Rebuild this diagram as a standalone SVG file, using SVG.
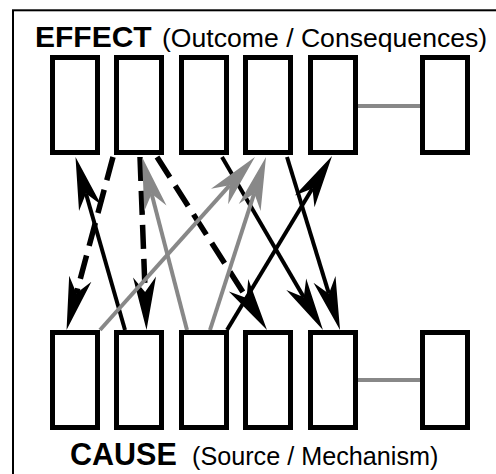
<svg xmlns="http://www.w3.org/2000/svg" width="496" height="474" viewBox="0 0 496 474">
<style>
.frame{fill:none;stroke:#000;stroke-width:2}
.box{fill:#fff;stroke:#000;stroke-width:5}
.link{stroke:#888;stroke-width:4;fill:none}
.blk{stroke:#000;stroke-width:4;fill:none}
.dsh{stroke:#000;stroke-width:5.5;fill:none;stroke-dasharray:24 10}
.gry{stroke:#888;stroke-width:4;fill:none}
.title{font-family:"Liberation Sans",Arial,sans-serif;fill:#000}
.bold{font-weight:bold}
</style>
<defs>
<marker id="hb" markerUnits="userSpaceOnUse" orient="auto" refX="0" refY="0" markerWidth="60" markerHeight="30" overflow="visible">
<path d="M38,0 L-15,-11.5 L0,0 L-15,11.5 Z" fill="#000"/>
</marker>
<marker id="hg" markerUnits="userSpaceOnUse" orient="auto" refX="0" refY="0" markerWidth="60" markerHeight="30" overflow="visible">
<path d="M38,0 L-15,-11.5 L0,0 L-15,11.5 Z" fill="#888"/>
</marker>
</defs>
<rect class="frame" x="13" y="10.3" width="520" height="520"/>
<text class="title bold" x="35" y="47" font-size="30">EFFECT</text>
<text class="title" x="162" y="47" font-size="26.6">(Outcome / Consequences)</text>
<text class="title bold" x="70" y="465" font-size="30.5">CAUSE</text>
<text class="title" x="192" y="465" font-size="25.2">(Source / Mechanism)</text>
<g id="connectors">
<line class="link" x1="355" y1="106" x2="423" y2="106"/>
<line class="link" x1="355" y1="380" x2="423" y2="380"/>
<path class="blk" d="M125,330 L85.95,193.5" marker-end="url(#hb)"/>
<path class="dsh" d="M113,157 L76.4,293.3" marker-end="url(#hb)"/>
<path class="dsh" d="M140,157 L145.1,292" marker-end="url(#hb)"/>
<path class="dsh" d="M157,157 L246.6,297.9" marker-end="url(#hb)"/>
<path class="blk" d="M222,157 L303.8,297.2" marker-end="url(#hb)"/>
<path class="blk" d="M227,330 L312.4,188.5" marker-end="url(#hb)"/>
<path class="blk" d="M287,157 L328.9,293.7" marker-end="url(#hb)"/>
<path class="gry" d="M187,330 L151.6,193.8" marker-end="url(#hg)"/>
<path class="gry" d="M100,330 L229.6,185.3" marker-end="url(#hg)"/>
<path class="gry" d="M210,330 L254.3,193.2" marker-end="url(#hg)"/>
</g>
<g id="effect1"><rect class="box" x="52.5" y="57.5" width="45" height="95"/></g>
<g id="effect2"><rect class="box" x="116.5" y="57.5" width="45" height="95"/></g>
<g id="effect3"><rect class="box" x="181.5" y="57.5" width="45" height="95"/></g>
<g id="effect4"><rect class="box" x="245.5" y="57.5" width="45" height="95"/></g>
<g id="effect5"><rect class="box" x="310.5" y="57.5" width="45" height="95"/></g>
<g id="effect6"><rect class="box" x="422.5" y="57.5" width="45" height="95"/></g>
<g id="cause1"><rect class="box" x="52.5" y="332.5" width="45" height="95"/></g>
<g id="cause2"><rect class="box" x="116.5" y="332.5" width="45" height="95"/></g>
<g id="cause3"><rect class="box" x="181.5" y="332.5" width="45" height="95"/></g>
<g id="cause4"><rect class="box" x="245.5" y="332.5" width="45" height="95"/></g>
<g id="cause5"><rect class="box" x="310.5" y="332.5" width="45" height="95"/></g>
<g id="cause6"><rect class="box" x="422.5" y="332.5" width="45" height="95"/></g>
</svg>
